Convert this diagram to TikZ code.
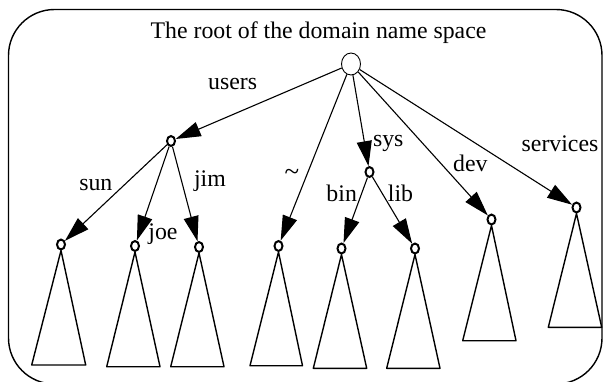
\documentclass[tikz,border=0pt]{standalone}
\usepackage{fontspec}
\setmainfont{Liberation Serif}
\usetikzlibrary{arrows.meta,shapes.geometric}
\begin{document}
\begin{tikzpicture}[x=1pt,y=-1pt,
  lbl/.style={font=\fontsize{23.8}{28}\selectfont, inner sep=0pt, anchor=base},
  dirnode/.style={ellipse, draw, line width=2pt, minimum width=8pt, minimum height=10pt, inner sep=0pt},
  rootnode/.style={ellipse, draw, line width=0.9pt, minimum width=19pt, minimum height=22pt, inner sep=0pt},
  link/.style={line width=1.1pt, -{Triangle[length=25pt,width=15pt]}},
  subtree/.style={line width=1.4pt, line join=round},
  boxframe/.style={line width=1.4pt, rounded corners=46pt}]
\useasboundingbox (0,0) rectangle (603,381);
\clip (0,0) rectangle (603,381);

% outer frame of the name space
\draw[boxframe] (8.5,9.5) rectangle (602,384);

\node[lbl] (title) at (318.5,38) {The root of the domain name space};

% directory nodes
\node[rootnode] (root) at (351,64) {};
\node[dirnode] (users) at (171,141) {};
\node[dirnode] (sys) at (369.5,172) {};
\node[dirnode] (sun) at (61,244.5) {};
\node[dirnode] (joe) at (135,246) {};
\node[dirnode] (jim) at (199,247) {};
\node[dirnode] (tilde) at (278.5,246) {};
\node[dirnode] (bin) at (341.5,248.5) {};
\node[dirnode] (lib) at (415,248.5) {};
\node[dirnode] (dev) at (491.5,219.5) {};
\node[dirnode] (serv) at (576.5,207.5) {};

% links between directories
\draw[link] (root) -- (users);
\draw[link] (root) -- (tilde);
\draw[link] (root) -- (sys);
\draw[link] (root) -- (dev);
\draw[link] (root) -- (serv);
\draw[link] (users) -- (sun);
\draw[link] (users) -- (joe);
\draw[link] (users) -- (jim);
\draw[link] (sys) -- (bin);
\draw[link] (sys) -- (lib);

% link labels
\node[lbl] (lusers) at (232.7,89.3) {users};
\node[lbl] (lsys) at (388.3,146) {sys};
\node[lbl] (lsun) at (95.8,190.7) {sun};
\node[lbl] (ljim) at (210,186.7) {jim};
\node[lbl] (ljoe) at (163,239.3) {joe};
\node[lbl,font=\fontsize{27}{30}\selectfont] (ltilde) at (292,180) {\textasciitilde};
\node[lbl] (lbin) at (341.7,201) {bin};
\node[lbl] (llib) at (400.5,201) {lib};
\node[lbl] (ldev) at (470.3,171.7) {dev};
\node[lbl] (lserv) at (560,151.7) {services};

% subtrees below the leaves
\coordinate (sunL) at (31.7,365);   \coordinate (sunR) at (85.7,365);
\coordinate (joeL) at (106.7,366.7); \coordinate (joeR) at (160,366.7);
\coordinate (jimL) at (170.7,366.7); \coordinate (jimR) at (224,366.7);
\coordinate (tildeL) at (250,365.7); \coordinate (tildeR) at (302.5,365.7);
\coordinate (binL) at (313.3,368.3); \coordinate (binR) at (366.7,368.3);
\coordinate (libL) at (386.7,368.3); \coordinate (libR) at (440,368.3);
\coordinate (devL) at (462.7,340.7); \coordinate (devR) at (516,340.7);
\coordinate (servL) at (548.3,327.3); \coordinate (servR) at (601.7,327.3);
\foreach \n in {sun,joe,jim,tilde,bin,lib,dev,serv}
  \draw[subtree] (\n.south) -- (\n L) -- (\n R) -- cycle;
\end{tikzpicture}
\end{document}
